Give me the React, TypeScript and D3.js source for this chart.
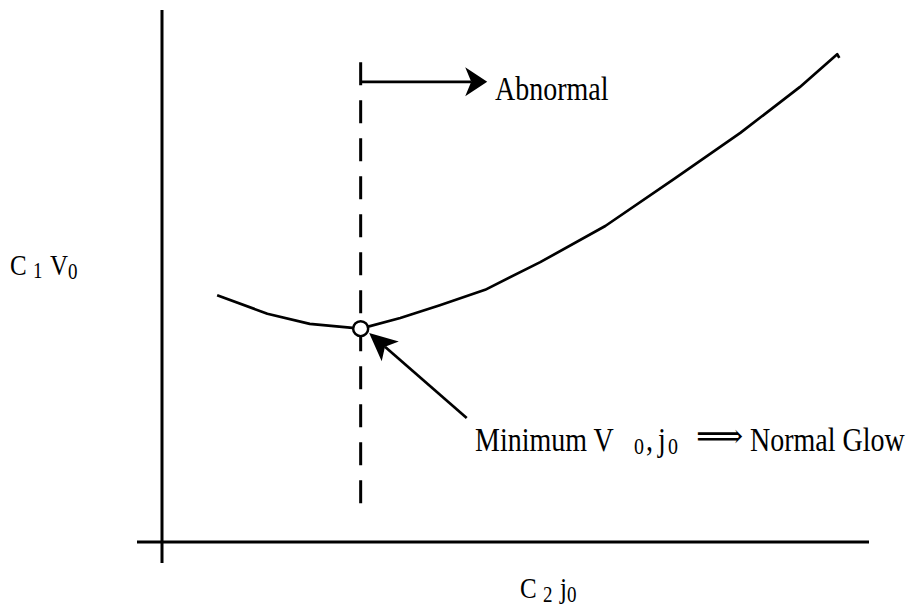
import React from 'react'
import * as d3 from 'd3'

// schematic curve: C1 V0 against C2 j0 (arbitrary units 0..100)
const curveX = [7.8, 14.9, 20.9, 28.1, 33.7, 39.3, 45.7, 53.5, 62.7, 72.6, 81.8, 90.2, 95.5, 95.8]
const curveY = [46.4, 42.9, 41.0, 40.1, 42.1, 44.5, 47.4, 52.6, 59.4, 68.4, 76.9, 85.5, 91.7, 91.0]

// the minimum (normal glow) point and the annotation arrows, same units
const minPoint = [28.1, 40.1]
const dashRange = [90.2, 6.6]
const abnormalArrow = [[28.1, 86.5], [46.0, 86.5]]
const minArrow = [[43.1, 23.3], [29.3, 39.3]]

const W = 912
const H = 606
const serif = '"Liberation Serif", "Times New Roman", serif'
const stretch = 1.18

const x = d3.scaleLinear().domain([0, 100]).range([162, 869])
const y = d3.scaleLinear().domain([0, 100]).range([542, 10])

function arrowHead (from: number[], to: number[], len: number, half: number, notch: number) {
  const x0 = x(from[0]), y0 = y(from[1]), x1 = x(to[0]), y1 = y(to[1])
  const a = Math.atan2(y1 - y0, x1 - x0)
  const ux = Math.cos(a), uy = Math.sin(a)
  const bx = x1 - ux * len, by = y1 - uy * len
  const p = d3.path()
  p.moveTo(x1, y1)
  p.lineTo(bx - uy * half, by + ux * half)
  p.lineTo(x1 - ux * (len - notch), y1 - uy * (len - notch))
  p.lineTo(bx + uy * half, by - ux * half)
  p.closePath()
  return { d: p.toString(), sx: x1 - ux * (len - notch), sy: y1 - uy * (len - notch) }
}

function Txt (props: { x: number, y: number, size: number, children: React.ReactNode, family?: string, sx?: number }) {
  return (
    <g transform={'translate(' + props.x + ',' + props.y + ') scale(' + (props.sx || 1) + ',' + stretch + ')'}>
      <text x={0} y={0} fontSize={props.size} fontFamily={props.family || serif} fill='#000'>{props.children}</text>
    </g>
  )
}

export default function App () {
  const pts = curveX.map((v, i) => [x(v), y(curveY[i])] as [number, number])
  const line = d3.line().curve(d3.curveLinear)
  const head1 = arrowHead(abnormalArrow[0], abnormalArrow[1], 22, 14.5, 6)
  const head2 = arrowHead(minArrow[0], minArrow[1], 28, 13, 7)

  return (
    <svg width={W} height={H} style={{ position: 'absolute', left: 0, top: 0, background: '#fff' }}>
      {/* axes */}
      <line x1={x(0)} x2={x(0)} y1={y(100)} y2={y(0) + 21} stroke='#000' strokeWidth={3} />
      <line x1={x(0) - 25} x2={x(100)} y1={y(0)} y2={y(0)} stroke='#000' strokeWidth={3} />

      {/* dashed boundary */}
      <line x1={x(minPoint[0])} x2={x(minPoint[0])} y1={y(dashRange[0])} y2={y(dashRange[1])}
        stroke='#000' strokeWidth={3} strokeDasharray='23,15' />

      {/* curve */}
      <path d={line(pts) || ''} fill='none' stroke='#000' strokeWidth={2.7} strokeLinejoin='round' />

      {/* abnormal arrow */}
      <line x1={x(abnormalArrow[0][0])} y1={y(abnormalArrow[0][1])} x2={head1.sx} y2={head1.sy} stroke='#000' strokeWidth={2.7} />
      <path d={head1.d} fill='#000' />

      {/* minimum arrow */}
      <line x1={x(minArrow[0][0])} y1={y(minArrow[0][1])} x2={head2.sx} y2={head2.sy} stroke='#000' strokeWidth={2.7} />
      <path d={head2.d} fill='#000' />

      <circle cx={x(minPoint[0])} cy={y(minPoint[1])} r={7.5} fill='#fff' stroke='#000' strokeWidth={2.5} />

      {/* labels */}
      <Txt x={495} y={100} size={28}>Abnormal</Txt>

      <Txt x={475} y={451} size={28}>Minimum V</Txt>
      <Txt x={634} y={454} size={20}>0</Txt>
      <Txt x={646} y={451} size={28}>,</Txt>
      <Txt x={658} y={451} size={28}>j</Txt>
      <Txt x={668} y={454} size={20}>0</Txt>
      <Txt x={696} y={447} size={28} sx={1.18} family='"DejaVu Serif", serif'>⟹</Txt>
      <Txt x={750} y={451} size={28}>Normal Glow</Txt>

      <Txt x={10} y={275} size={25}>C</Txt>
      <Txt x={33} y={278} size={19}>1</Txt>
      <Txt x={50} y={275} size={25}>V</Txt>
      <Txt x={68} y={279} size={19}>0</Txt>

      <Txt x={520} y={598} size={25}>C</Txt>
      <Txt x={543} y={602} size={19}>2</Txt>
      <Txt x={560} y={598} size={25}>j</Txt>
      <Txt x={567} y={602} size={19}>0</Txt>
    </svg>
  )
}
